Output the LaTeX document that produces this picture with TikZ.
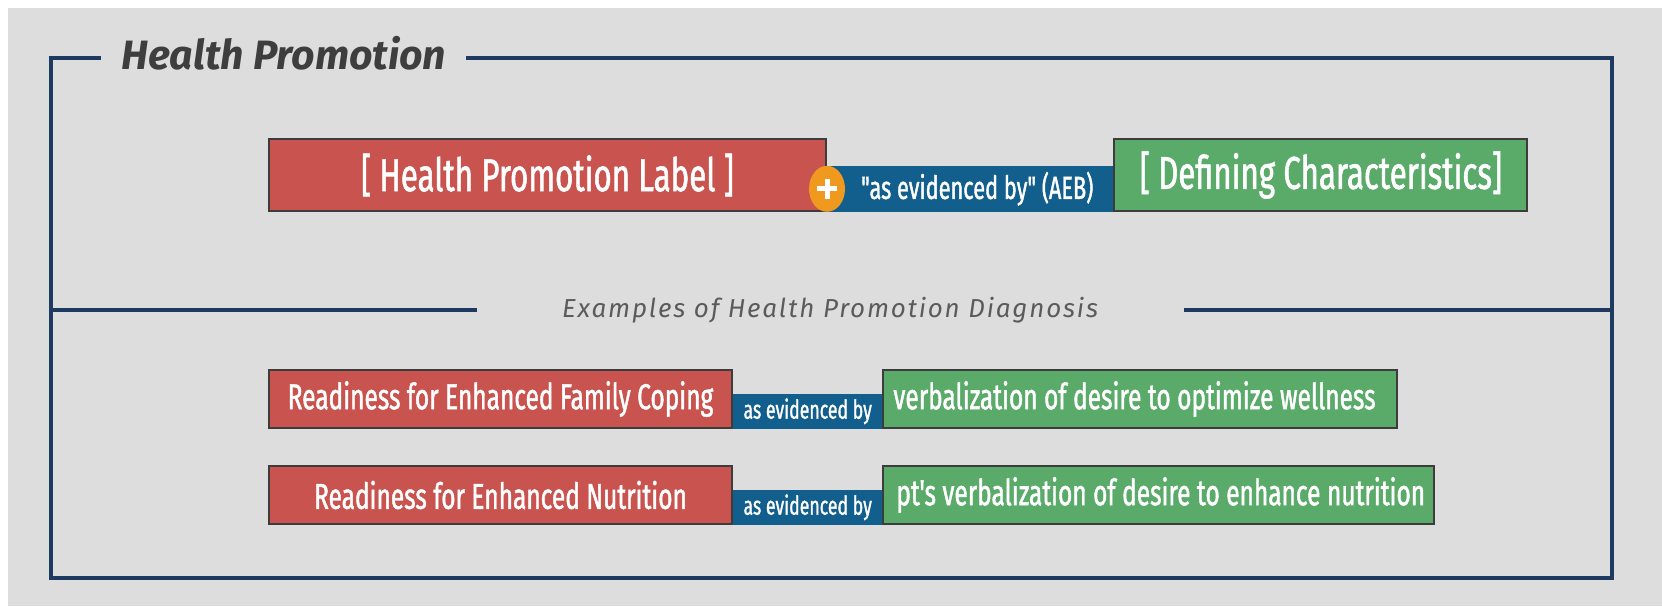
\documentclass[tikz,border=0pt]{standalone}
\usepackage{fontspec}
\setmainfont{Fira Sans}
\newfontfamily\boxfont[FakeStretch=0.68,FakeBold=1.2]{Fira Sans}
\newfontfamily\headfont{Fira Sans}
\usetikzlibrary{positioning}
\definecolor{hpred}{HTML}{C9544F}
\definecolor{hpblue}{HTML}{125E8C}
\definecolor{hpgreen}{HTML}{5AAA6A}
\definecolor{hporange}{HTML}{EF9A1E}
\definecolor{hpnavy}{HTML}{1E3A60}
\definecolor{hpgray}{HTML}{DDDDDD}
\definecolor{hpedge}{HTML}{3C3C3C}
\definecolor{hptext}{HTML}{3E3E3E}

\begin{document}
\begin{tikzpicture}[x=1pt,y=-1pt,node distance=0pt]
        \tikzset{tile/.style={draw=hpedge,line width=2pt,text=white,inner sep=0pt,font=\boxfont},
          labelbox/.style={tile,fill=hpred,minimum width=557,minimum height=72},
          aebbox/.style={fill=hpblue,text=white,inner sep=0pt,font=\boxfont},
          charbox/.style={tile,fill=hpgreen,minimum height=72},
          exlabel/.style={tile,fill=hpred,minimum width=463,minimum height=58,font=\boxfont\fontsize{36}{36}\selectfont},
          exaeb/.style={aebbox,minimum width=149,minimum height=35,font=\boxfont\fontsize{26}{26}\selectfont},
          exchar/.style={tile,fill=hpgreen,minimum height=58,font=\boxfont\fontsize{36}{36}\selectfont},
          frame/.style={draw=hpnavy,line width=3.2pt}}
        \fill[white] (0,0) rectangle (1662,606);
        \fill[hpgray] (8,8) rectangle (1662,606);
        \useasboundingbox (0,0) rectangle (1662,606);
        % outer frame with the heading in its top edge
        \node[anchor=west,text=hptext,font=\headfont\bfseries\itshape\fontsize{41}{41}\selectfont] (title) at (118,53) {Health Promotion};
        \draw[frame] (101,58) -- (51,58) -- (51,578) -- (1612,578) -- (1612,58) -- (466,58);
        % general form of the diagnosis
        \node[labelbox,anchor=north west,font=\boxfont\fontsize{46}{46}\selectfont] (label) at (268,138) {[ Health Promotion Label ]};
        \node[aebbox,anchor=south west,minimum width=286,minimum height=46,font=\boxfont\fontsize{32}{32}\selectfont] (aeb) at (label.south east) {\hspace*{14pt}"as evidenced by" (AEB)};
        \node[charbox,anchor=south west,minimum width=413,font=\boxfont\fontsize{46}{46}\selectfont] (defchar) at (aeb.south east) {[ Defining Characteristics]};
        \coordinate (plus) at (label.east |- aeb.west);
        \fill[hporange] (plus) ellipse [x radius=18,y radius=23];
        \draw[white,line width=5pt] ([xshift=-10pt]plus) -- ++(20,0) ([yshift=-10pt]plus) -- ++(0,-20);
        % divider
        \node[text=hptext!85,font=\headfont\itshape\fontsize{26}{26}\selectfont\addfontfeatures{LetterSpace=7}] (examples) at (830,310) {Examples of Health Promotion Diagnosis};
        \draw[frame] (51,310) -- (477,310);
        \draw[frame] (1184,310) -- (1612,310);
        % worked examples
        \node[exlabel,anchor=north west] (coping) at (268,369) {Readiness for Enhanced Family Coping};
        \node[exaeb,anchor=south west] (copingaeb) at (coping.south east) {as evidenced by};
        \node[exchar,anchor=south west,minimum width=514] (copingchar) at (copingaeb.south east) {\makebox[514pt][l]{\hspace*{10pt}verbalization of desire to optimize wellness}};
        \node[exlabel,anchor=north west] (nutrition) at (268,465) {Readiness for Enhanced Nutrition};
        \node[exaeb,anchor=south west] (nutritionaeb) at (nutrition.south east) {as evidenced by};
        \node[exchar,anchor=south west,minimum width=551] (nutritionchar) at (nutritionaeb.south east) {\makebox[551pt][l]{\hspace*{13pt}pt's verbalization of desire to enhance nutrition}};
      \end{tikzpicture}
\end{document}
